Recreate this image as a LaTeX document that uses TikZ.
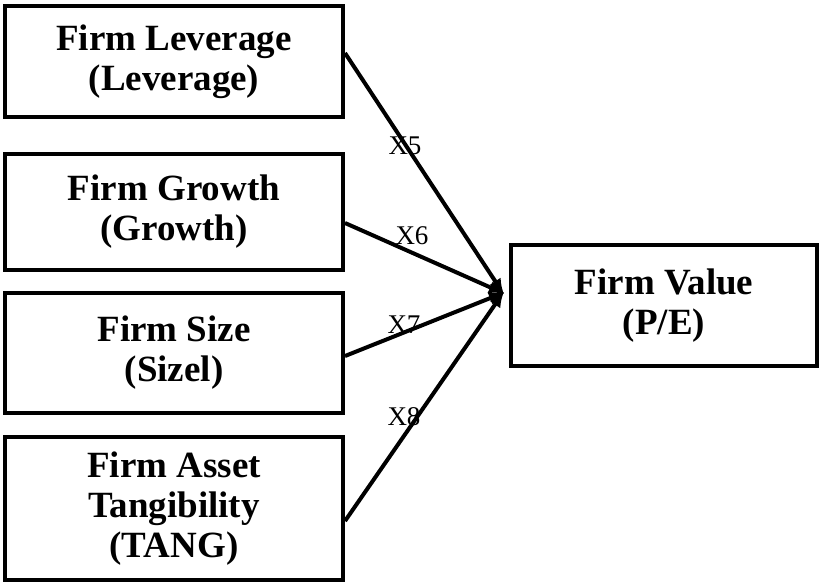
\documentclass[tikz,border=0pt]{standalone}
\usepackage{fontspec}
\setmainfont{Liberation Serif}
\usetikzlibrary{arrows.meta}
\begin{document}
\begin{tikzpicture}[x=1pt,y=-1pt,
  box/.style={draw,line width=4pt,align=center,font=\fontsize{37}{40}\selectfont\bfseries,inner sep=0pt},
  link/.style={line width=4pt,-{Latex[length=16pt,width=13pt]},shorten >=-2pt},
  lab/.style={font=\fontsize{27}{30}\selectfont}]
\useasboundingbox (0,0) rectangle (820,582);
\node[box,minimum width=338pt,minimum height=111pt] (lev) at (174,61.5) {Firm Leverage\\(Leverage)};
\node[box,minimum width=338pt,minimum height=116pt] (gro) at (174,212) {Firm Growth\\(Growth)};
\node[box,minimum width=338pt,minimum height=120pt] (siz) at (174,353) {Firm Size\\(Sizel)};
\node[box,minimum width=338pt,minimum height=143pt] (tang) at (174,508.5) {Firm Asset\\Tangibility\\(TANG)};
\node[box,minimum width=306pt,minimum height=121pt] (val) at (664,305.5) {Firm Value\\(P/E)};
\coordinate (t) at (503,293);
\draw[link] (lev.east |- 0,53) -- (t);
\draw[link] (gro.east |- 0,223) -- (t);
\draw[link] (siz.east |- 0,356) -- (t);
\draw[link] (tang.east |- 0,521) -- (t);
\node[lab] (x5) at (405,146) {X5};
\node[lab] (x6) at (412,236) {X6};
\node[lab] (x7) at (404,325) {X7};
\node[lab] (x8) at (404,417) {X8};
\end{tikzpicture}
\end{document}
